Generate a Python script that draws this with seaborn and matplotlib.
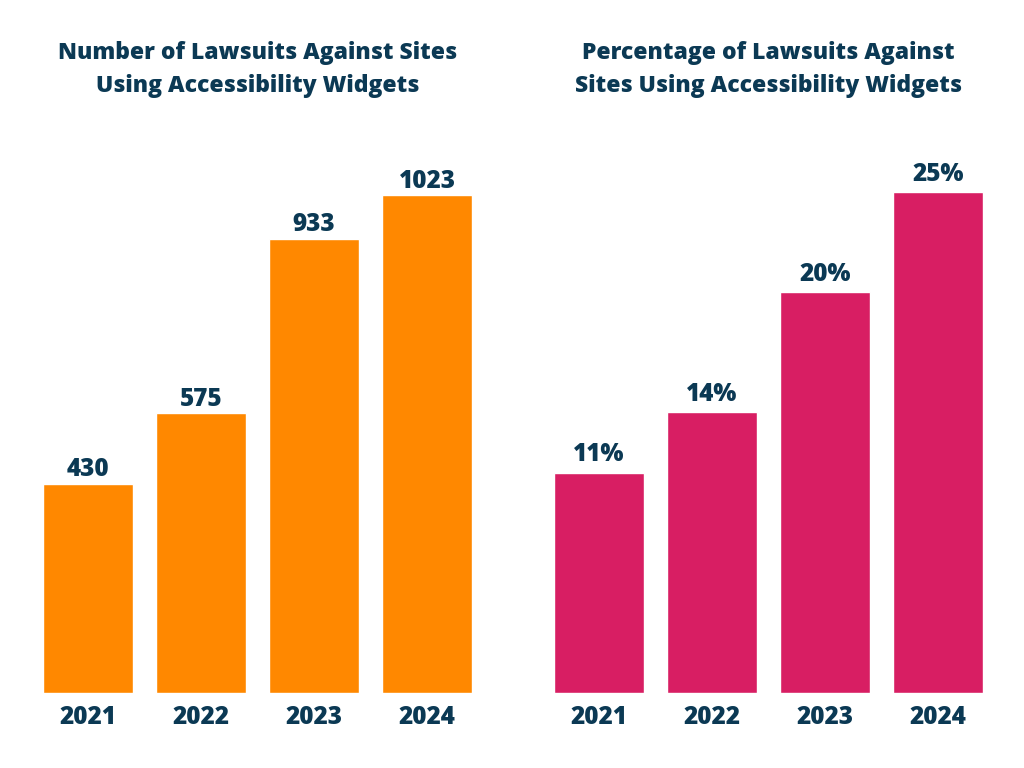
import matplotlib
matplotlib.use('Agg')
import matplotlib.pyplot as plt
import seaborn as sns
import pandas as pd

# Datos
years = ['2021', '2022', '2023', '2024']
lawsuits = [430, 575, 933, 1023]
percentages = [11, 14, 20, 25]

orange = '#FF8800'
pink = '#D81E63'
navy = '#0B3954'

sns.set_theme(style='white')
plt.rcParams['font.family'] = ['Open Sans', 'DejaVu Sans']

fig = plt.figure(figsize=(10.24, 7.68), dpi=100)
ax1 = fig.add_axes([31.5 / 1024, 75 / 768, 452 / 1024, 553 / 768])
ax2 = fig.add_axes([542.5 / 1024, 75 / 768, 452 / 1024, 553 / 768])

df1 = pd.DataFrame({'Year': years, 'Value': lawsuits})
df2 = pd.DataFrame({'Year': years, 'Value': percentages})

sns.barplot(data=df1, x='Year', y='Value', color=orange, saturation=1, width=0.8, ax=ax1)
sns.barplot(data=df2, x='Year', y='Value', color=pink, saturation=1, width=0.8, ax=ax2)

ax1.set_ylim(0, 1136)
ax2.set_ylim(0, 27.6)

ax1.bar_label(ax1.containers[0], labels=[str(v) for v in lawsuits],
              padding=1, fontsize=17.5, fontweight=800, color=navy)
ax2.bar_label(ax2.containers[0], labels=[f'{v}%' for v in percentages],
              padding=4, fontsize=17.5, fontweight=800, color=navy)

titles = ['Number of Lawsuits Against Sites\nUsing Accessibility Widgets',
          'Percentage of Lawsuits Against\nSites Using Accessibility Widgets']

for ax, t in zip([ax1, ax2], titles):
    ax.set_xlim(-0.5, 3.5)
    ax.set_xlabel('')
    ax.set_ylabel('')
    ax.set_yticks([])
    sns.despine(ax=ax, left=True, bottom=True)
    ax.tick_params(axis='x', length=0, pad=9)
    for lbl in ax.get_xticklabels():
        lbl.set_fontsize(17.5)
        lbl.set_fontweight(800)
        lbl.set_color(navy)
    ax.text(0.5, 1.0 + 70.5 / 553, t, transform=ax.transAxes, ha='center', va='center',
            fontsize=16.5, fontweight=800, color=navy, linespacing=1.5)

fig.savefig('out.png', dpi=100, facecolor='white')
